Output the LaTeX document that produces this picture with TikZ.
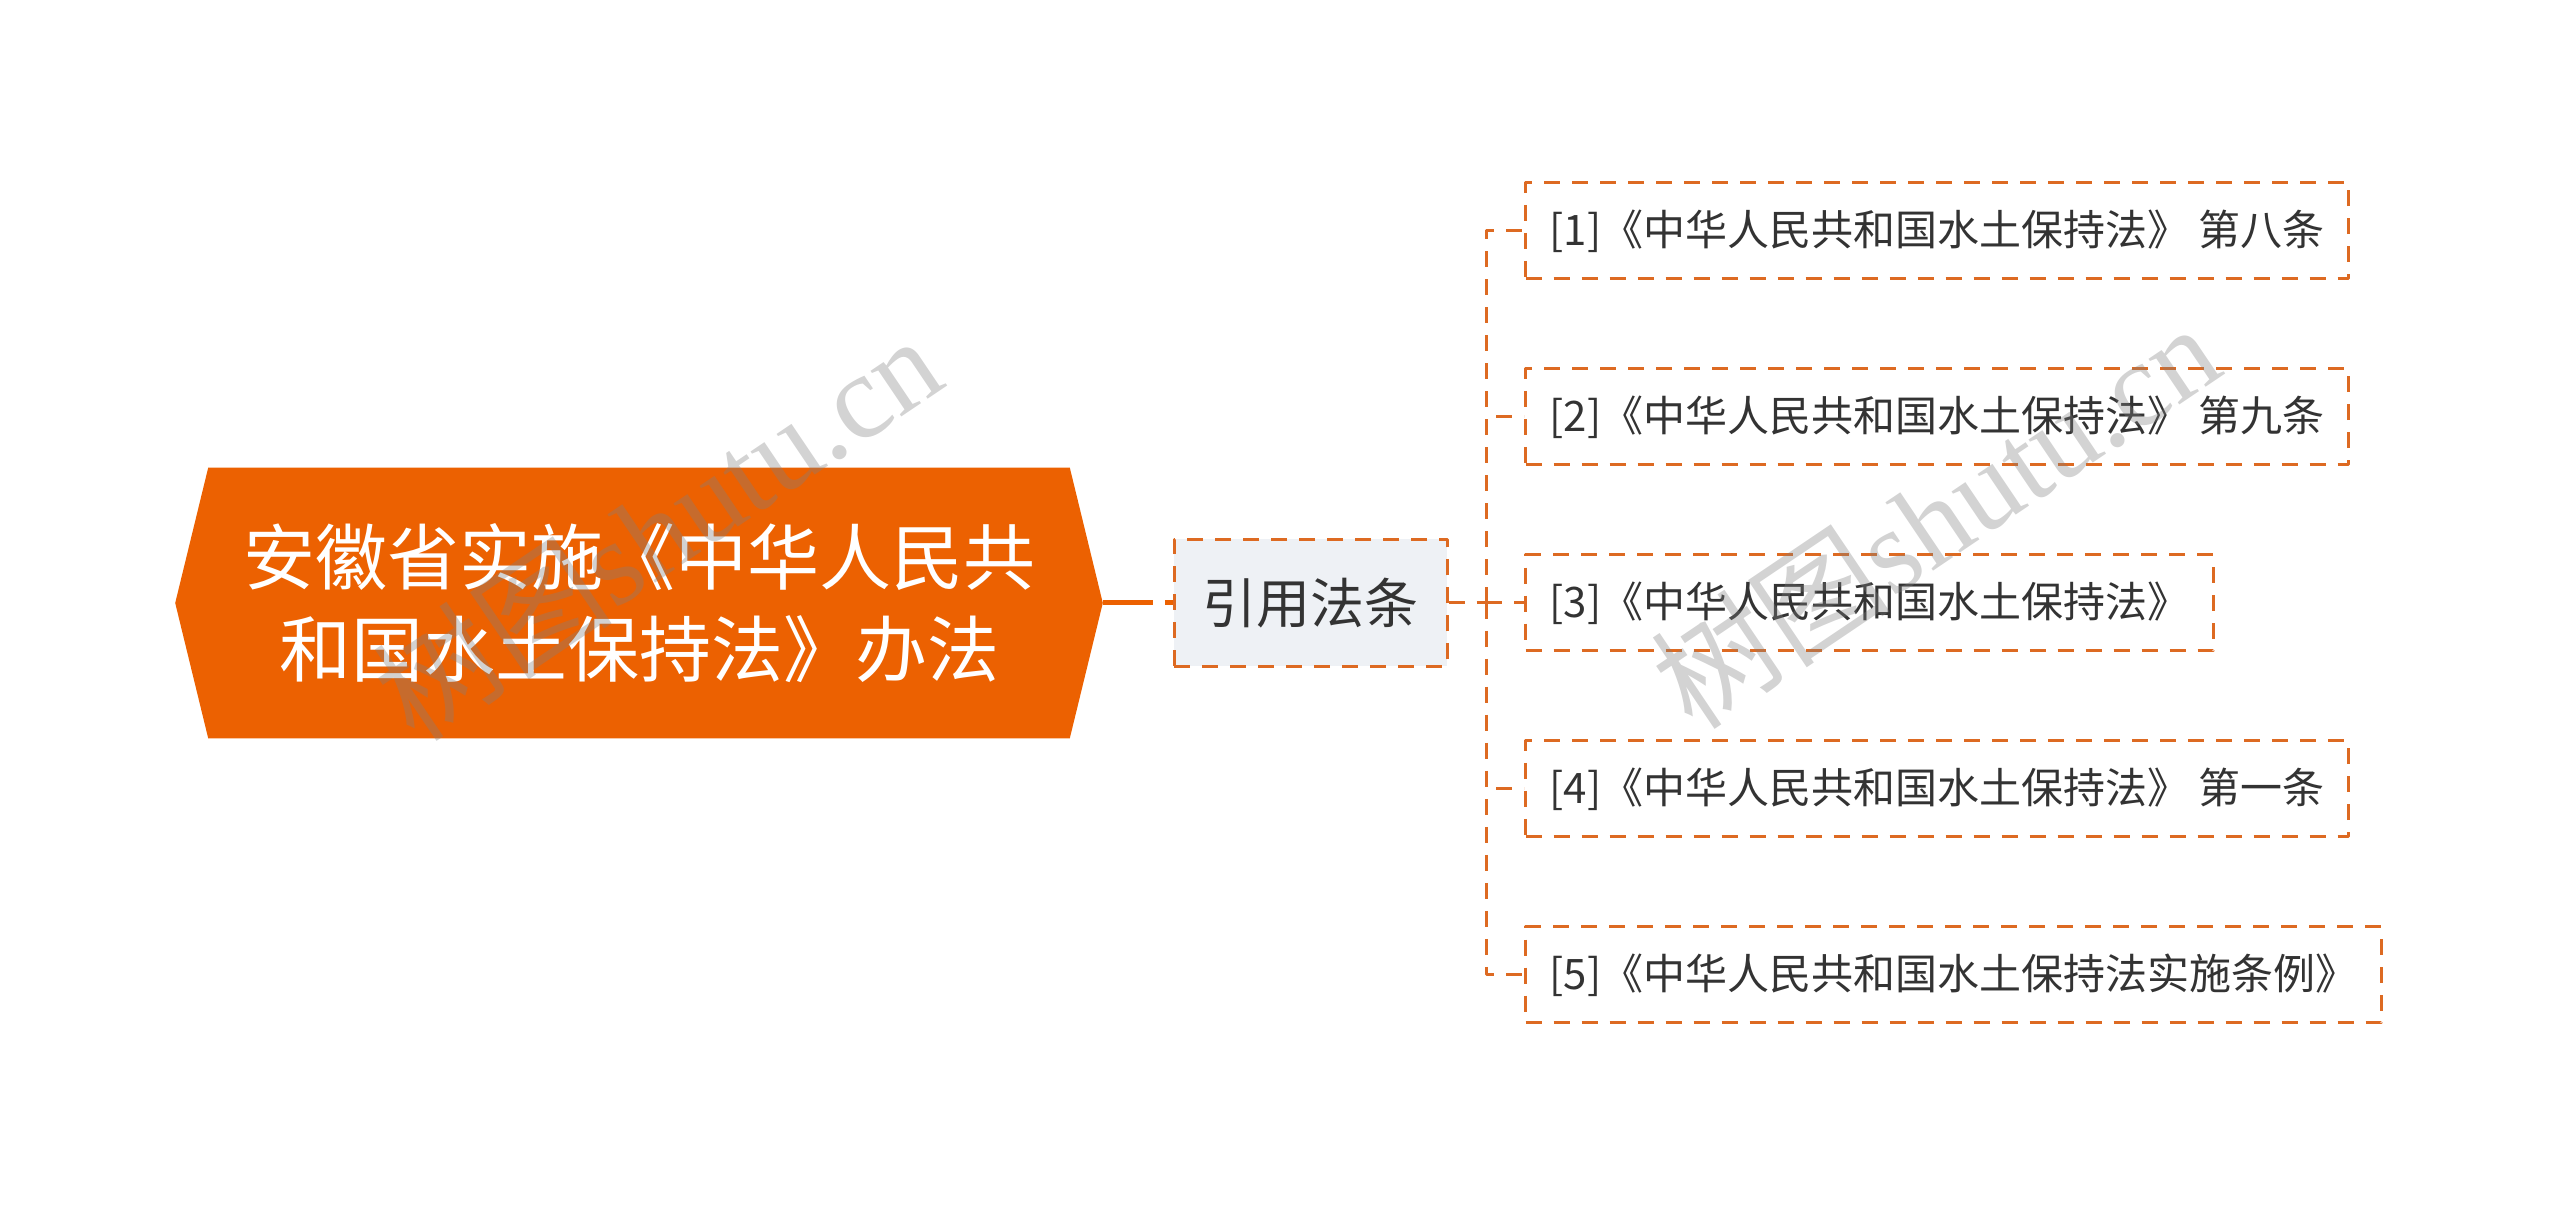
\documentclass[tikz,border=0pt]{standalone}
\usepackage{fontspec}
\newfontfamily\cjk{Noto Sans CJK SC}
\newfontfamily\wmfont{Liberation Serif}
\usetikzlibrary{calc,backgrounds}
\definecolor{rootfill}{HTML}{EC6101}
\definecolor{linkorange}{HTML}{DD6A22}
\definecolor{subfill}{HTML}{EEF1F5}
\definecolor{leaftext}{HTML}{333333}
\tikzset{
  rootnode/.style={draw=none,text=white,align=center,minimum width=231.5bp,minimum height=67.25bp,
    font=\cjk\fontsize{18bp}{23bp}\selectfont},
  subnode/.style={draw=linkorange,fill=subfill,line width=0.75bp,dash pattern=on 4bp off 3bp,
    minimum width=68.25bp,minimum height=31.75bp,text=leaftext,font=\cjk\fontsize{13.5bp}{16bp}\selectfont},
  leafnode/.style={draw=linkorange,line width=0.75bp,dash pattern=on 4bp off 3bp,anchor=west,
    inner xsep=6bp,minimum height=24bp,text=leaftext,font=\cjk\fontsize{10.5bp}{13bp}\selectfont},
  link/.style={draw=linkorange,line width=0.75bp,dash pattern=on 4bp off 3bp},
  rootlink/.style={draw=rootfill,line width=1.25bp,dash pattern=on 12.5bp off 3bp},
  watermark/.style={rotate=34,text=gray,opacity=0.35,font=\wmfont\fontsize{30bp}{30bp}\selectfont},
}
\begin{document}
\begin{tikzpicture}[line join=bevel,]
\useasboundingbox (0bp,0bp) rectangle (640bp,301.25bp);
%%
\node (root) at (159.75bp,150.5bp) [rootnode] {安徽省实施《中华人民共\\和国水土保持法》办法};
  \node (cite) at (327.625bp,150.5bp) [subnode] {引用法条};
  \node (law_1) at (381bp,243.5bp) [leafnode] {[1]《中华人民共和国水土保持法》 第八条};
  \node (law_2) at (381bp,197bp) [leafnode] {[2]《中华人民共和国水土保持法》 第九条};
  \node (law_3) at (381bp,150.5bp) [leafnode] {[3]《中华人民共和国水土保持法》};
  \node (law_4) at (381bp,104bp) [leafnode] {[4]《中华人民共和国水土保持法》 第一条};
  \node (law_5) at (381bp,57.5bp) [leafnode] {[5]《中华人民共和国水土保持法实施条例》};
  \coordinate (fork) at (371.5bp,150.5bp);
%
\begin{scope}[on background layer]
  \fill [rootfill] (root.west) -- ($(root.north west)+(8.25bp,0)$) -- ($(root.north east)+(-8.25bp,0)$)
    -- (root.east) -- ($(root.south east)+(-8.25bp,0)$) -- ($(root.south west)+(8.25bp,0)$) -- cycle;
\end{scope}
  \draw [rootlink] (root.east) -- (cite.west);
  \draw [link] (cite.east) -- (fork);
  \draw [link] (fork) |- (law_1.west);
  \draw [link] (fork) |- (law_2.west);
  \draw [link] (fork) -- (law_3.west);
  \draw [link] (fork) |- (law_4.west);
  \draw [link] (fork) |- (law_5.west);
%
\node (mark_1) at (164.25bp,169.5bp) [watermark] {{\cjk 树图}shutu.cn};
  \node (mark_2) at (483.75bp,172.5bp) [watermark] {{\cjk 树图}shutu.cn};
%
\end{tikzpicture}
\end{document}
